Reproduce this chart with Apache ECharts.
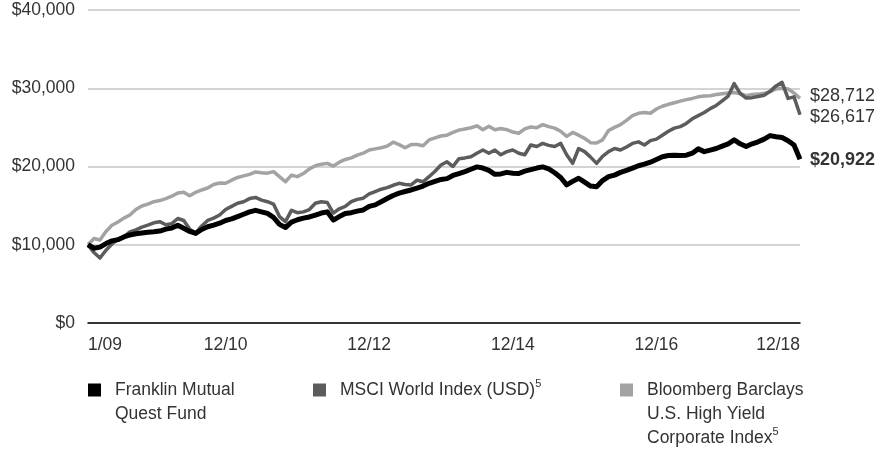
<!DOCTYPE html>
<html>
<head>
<meta charset="utf-8">
<title>Growth of $10,000</title>
<script src="https://cdn.jsdelivr.net/npm/echarts@6/dist/echarts.min.js"></script>
<style>
html, body { margin:0; padding:0; background:#fff; }
#chart { width:877px; height:453px; }
</style>
</head>
<body>
<div id="chart"></div>
<script>

var FONT = "'Liberation Sans', Arial, sans-serif";
var FS = 17.5;

/*Data from here*/
var tickLabels = ['1/09', '12/10', '12/12', '12/14', '12/16', '12/18'];

var fundValues = [
    10000, 9550, 9700, 10150, 10500, 10650, 11000, 11250, 11400, 11500,
    11600, 11650, 11750, 12000, 12150, 12500, 12100, 11700, 11450, 11950,
    12300, 12500, 12750, 13100, 13300, 13600, 13900, 14200, 14400, 14200,
    14000, 13500, 12600, 12200, 12900, 13200, 13400, 13550, 13800, 14050,
    14200, 13150, 13600, 14000, 14100, 14300, 14450, 14900, 15100, 15500,
    15900, 16300, 16600, 16800, 17000, 17250, 17500, 17850, 18100, 18350,
    18450, 18850, 19100, 19350, 19650, 19950, 19800, 19500, 19000, 19050,
    19250, 19150, 19100, 19400, 19600, 19800, 19950, 19700, 19200, 18600,
    17650, 18100, 18500, 18000, 17500, 17400, 18200, 18700, 18900, 19250,
    19500, 19800, 20100, 20300, 20550, 20900, 21250, 21400, 21450, 21400,
    21450, 21700, 22250, 21900, 22100, 22300, 22600, 22900, 23400, 22900,
    22550, 22900, 23150, 23500, 23950, 23800, 23700, 23300, 22750, 20922
];

var msciValues = [
    10000, 9000, 8300, 9300, 10100, 10700, 11000, 11650, 11900, 12250,
    12500, 12800, 12950, 12550, 12700, 13350, 13100, 12000, 11500, 12400,
    13100, 13400, 13800, 14500, 14900, 15300, 15500, 15900, 16050, 15700,
    15500, 15200, 13600, 12950, 14400, 14100, 14200, 14500, 15300, 15500,
    15400, 14050, 14600, 14900, 15500, 15800, 15950, 16500, 16800, 17100,
    17300, 17600, 17850, 17700, 17650, 18250, 18050, 18700, 19400, 20200,
    20600, 20000, 21000, 21100, 21250, 21700, 22100, 21700, 22100, 21500,
    21900, 22100, 21700, 21500, 22750, 22550, 22950, 22700, 22550, 22950,
    21500, 20400, 22300, 21900, 21200, 20400, 21300, 21900, 22300, 22100,
    22500, 22950, 23150, 22750, 23300, 23500, 24000, 24500, 24900, 25100,
    25500, 26100, 26500, 26900, 27400, 27800, 28400, 29000, 30600, 29350,
    28750, 28800, 28950, 29100, 29600, 30300, 30750, 28700, 28900, 26617
];

var highYieldValues = [
    10000, 10800, 10600, 11700, 12500, 12900, 13400, 13800, 14500, 14950,
    15200, 15500, 15650, 15900, 16200, 16600, 16700, 16250, 16700, 17000,
    17250, 17700, 17900, 17850, 18250, 18600, 18800, 19000, 19300, 19200,
    19150, 19350, 18700, 18050, 18900, 18700, 19100, 19700, 20100, 20300,
    20400, 20050, 20550, 20900, 21100, 21450, 21700, 22100, 22250, 22400,
    22600, 23100, 22800, 22400, 22800, 22800, 22650, 23400, 23650, 23900,
    24000, 24350, 24650, 24800, 24950, 25200, 24700, 25150, 24700, 24850,
    24700, 24400, 24250, 24800, 25050, 24950, 25350, 25100, 24900, 24500,
    23850, 24350, 24000, 23600, 23050, 23000, 23400, 24600, 25000, 25350,
    25900, 26500, 26800, 26900, 26800, 27350, 27700, 27950, 28150, 28350,
    28550, 28700, 28900, 29000, 29050, 29200, 29300, 29400, 29450, 29300,
    29050, 29200, 29250, 29350, 29550, 29900, 30000, 29900, 29400, 28712
];

// month categories 1/09 .. 12/18
var months = [];
for (var y = 9; y <= 18; y++) {
    for (var m = 1; m <= 12; m++) {
        months.push(m + '/' + (y < 10 ? '0' + y : y));
    }
}

/*Helpers*/
var fmtMoney = function(v){
    return '$' + Math.round(v).toLocaleString('en-US');
};

var lineSeries = function(name, values, color, width, bold, offsetY){
    return {
        name: name,
        type: 'line',
        data: values,
        symbol: 'none',
        lineStyle: { color: color, width: width, join: 'round' },
        itemStyle: { color: color },
        emphasis: { disabled: true },
        endLabel: {
            show: true,
            distance: 10,
            offset: [0, offsetY],
            formatter: function(p){ return fmtMoney(p.value); },
            fontFamily: FONT,
            fontSize: 18,
            fontWeight: bold ? 'bold' : 'normal',
            color: '#333'
        }
    };
};

var legendBox = function(name, left, lines){
    return {
        data: [name],
        left: left,
        top: 390 - 12 * (2 * lines - 1),
        orient: 'horizontal',
        padding: 0,
        icon: 'rect',
        itemWidth: 13,
        itemHeight: 13,
        selectedMode: false,
        textStyle: {
            fontFamily: FONT,
            fontSize: FS,
            color: '#333',
            lineHeight: 24,
            padding: [24 * (lines - 1), 0, 0, 9],
            rich: {
                t: { fontFamily: FONT, fontSize: FS, color: '#333', lineHeight: 24 },
                s: { fontFamily: FONT, fontSize: 11, color: '#333', lineHeight: 14, verticalAlign: 'top' }
            }
        },
        formatter: function(n){
            if (n === 'Franklin Mutual Quest Fund') return '{t|Franklin Mutual}\n{t|Quest Fund}';
            if (n === 'MSCI World Index (USD)') return '{t|MSCI World Index (USD)}{s|5}';
            return '{t|Bloomberg Barclays}\n{t|U.S. High Yield}\n{t|Corporate Index}{s|5}';
        }
    };
};

/*Chart process from here*/
var chart = echarts.init(document.getElementById('chart'), null, { renderer: 'canvas' });

chart.setOption({
    animation: false,
    backgroundColor: '#fff',
    textStyle: { fontFamily: FONT },
    grid: { left: 88, right: 77, top: 10, bottom: 130, containLabel: false },
    legend: [
        legendBox('Franklin Mutual Quest Fund', 88, 2),
        legendBox('MSCI World Index (USD)', 313, 1),
        legendBox('Bloomberg Barclays U.S. High Yield Corporate Index', 620, 3)
    ],
    xAxis: {
        type: 'category',
        data: months,
        boundaryGap: false,
        axisLine: { lineStyle: { color: '#000', width: 1.5 } },
        axisTick: { show: false },
        splitLine: { show: false },
        axisLabel: {
            interval: function(idx, val){ return tickLabels.indexOf(val) >= 0; },
            margin: 13,
            fontFamily: FONT,
            fontSize: FS,
            color: '#333',
            alignMinLabel: 'left',
            alignMaxLabel: 'right'
        }
    },
    yAxis: {
        type: 'value',
        min: 0,
        max: 40000,
        interval: 10000,
        axisLine: { show: false },
        axisTick: { show: false },
        splitLine: { lineStyle: { color: '#c6c6c6', width: 1.5 } },
        axisLabel: {
            margin: 13,
            formatter: fmtMoney,
            fontFamily: FONT,
            fontSize: FS,
            color: '#333'
        }
    },
    series: [
        lineSeries('Bloomberg Barclays U.S. High Yield Corporate Index', highYieldValues, '#a3a3a3', 3.5, false, -2),
        lineSeries('MSCI World Index (USD)', msciValues, '#5c5c5c', 3.5, false, 2),
        lineSeries('Franklin Mutual Quest Fund', fundValues, '#000000', 5, true, 1)
    ]
});

</script>
</body>
</html>
